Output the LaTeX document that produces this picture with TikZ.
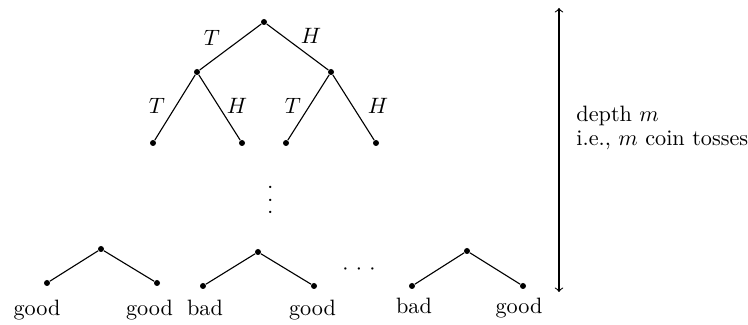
\documentclass[tikz,border=0pt]{standalone}
\begin{document}
\begin{tikzpicture}[x=0.45pt,y=-0.45pt,
  dot/.style={circle,fill=black,inner sep=0pt,minimum size=2.7pt},
  edge/.style={draw=black,line width=0.5pt},
  lbl/.style={inner sep=0pt},
  leaf/.style={inner sep=0pt,anchor=base}]
\useasboundingbox (0,0) rectangle (748,325);
% top tree
\node[dot] (r) at (264,22) {};
\node[dot] (a) at (197,72) {};
\node[dot] (b) at (331,72) {};
\node[dot] (a1) at (153,143) {};
\node[dot] (a2) at (242,143) {};
\node[dot] (b1) at (286,143) {};
\node[dot] (b2) at (376,143) {};
\draw[edge] (r) -- (a);
\draw[edge] (r) -- (b);
\draw[edge] (a) -- (a1);
\draw[edge] (a) -- (a2);
\draw[edge] (b) -- (b1);
\draw[edge] (b) -- (b2);
\node[lbl] (lt) at (212,38) {$T$};
\node[lbl] (lh) at (311,36) {$H$};
\node[lbl] (lt1) at (157,106) {$T$};
\node[lbl] (lh1) at (237,106) {$H$};
\node[lbl] (lt2) at (293,106) {$T$};
\node[lbl] (lh2) at (378,106) {$H$};
\node[lbl,rotate=90] (vd) at (271,200) {${\cdot}\hspace{2.9pt}{\cdot}\hspace{2.9pt}{\cdot}$};
% bottom trees
\node[dot] (p1) at (101,249) {};
\node[dot] (p1l) at (47,283) {};
\node[dot] (p1r) at (157,283) {};
\draw[edge] (p1) -- (p1l);
\draw[edge] (p1) -- (p1r);
\node[dot] (p2) at (258,252) {};
\node[dot] (p2l) at (203,286) {};
\node[dot] (p2r) at (314,286) {};
\draw[edge] (p2) -- (p2l);
\draw[edge] (p2) -- (p2r);
\node[dot] (p3) at (467,251) {};
\node[dot] (p3l) at (412,286) {};
\node[dot] (p3r) at (523,286) {};
\draw[edge] (p3) -- (p3l);
\draw[edge] (p3) -- (p3r);
\node[lbl] (hd) at (359,270) {${\cdot}\hspace{3.3pt}{\cdot}\hspace{3.3pt}{\cdot}$};
\node[leaf] (g1) at (37,316) {good};
\node[leaf] (g2) at (149.5,316) {good};
\node[leaf] (b3) at (205,316) {bad};
\node[leaf] (g4) at (312.5,316) {good};
\node[leaf] (b5) at (414,314) {bad};
\node[leaf] (g6) at (519,314) {good};
% arrow
\coordinate (at) at (559,8);
\coordinate (ab) at (559,292);
\draw[edge,<->] (at) -- (ab);
\node[lbl,anchor=base west] (txt1) at (576,122) {depth $m$};
\node[lbl,anchor=base west] (txt2) at (576,146) {i.e., $m$ coin tosses};
\end{tikzpicture}
\end{document}
